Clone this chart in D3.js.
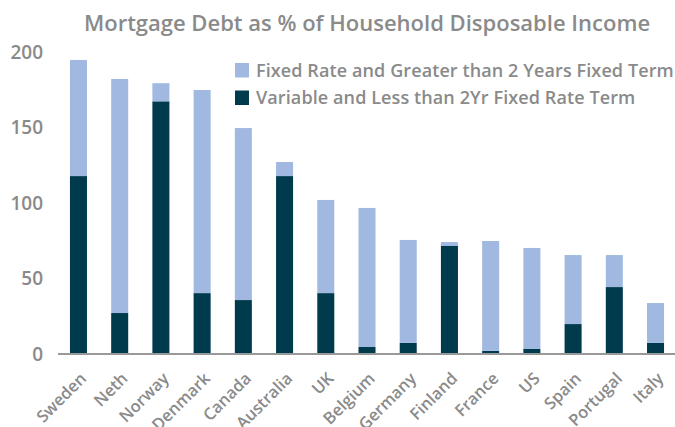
<!DOCTYPE html>
<html>
<head>
<meta charset="utf-8">
<script src="https://d3js.org/d3.v7.min.js"></script>
<style>
body { margin: 0; background: #fff; }
text { font-family: "Open Sans", Lato, sans-serif; fill: #8a8a8a; font-weight: 600; }
</style>
</head>
<body>
<svg id="chart" width="675" height="427"></svg>
<script>
// data
var countries = ["Sweden", "Neth", "Norway", "Denmark", "Canada", "Australia", "UK",
                 "Belgium", "Germany", "Finland", "France", "US", "Spain", "Portugal", "Italy"];
var variable = [117.5, 26.8, 167, 40, 35.4, 117.5, 40, 4.3, 7, 71.2, 1.7, 3, 19.5, 44, 7];
var fixed    = [76.9, 155, 12, 134.5, 113.9, 9.3, 61.7, 92.1, 68.2, 2.6, 72.8, 66.9, 45.7, 21.2, 26.4];
var yTicks = [0, 50, 100, 150, 200];
var seriesNames = ["Fixed Rate and Greater than 2 Years Fixed Term",
                   "Variable and Less than 2Yr Fixed Rate Term"];
var colors = ["#a1b9e0", "#003a4d"];

var svg = d3.select("#chart"),
    margin = {top: 51, right: 0, bottom: 73, left: 58},
    width = +svg.attr("width"),
    height = +svg.attr("height");

var x = d3.scaleBand()
    .domain(countries)
    .range([margin.left, 676])
    .paddingInner(0.587)
    .paddingOuter(0.29);

var y = d3.scaleLinear()
    .domain([0, 200])
    .range([height - margin.bottom - 0.5, margin.top + 0.5]);

var rows = countries.map(function(c, i) {
    return {country: c, variable: variable[i], fixed: fixed[i]};
});
var stack = d3.stack().keys(["variable", "fixed"])(rows);

// title
svg.append("text")
    .attr("x", (margin.left + 676) / 2)
    .attr("y", 31)
    .attr("text-anchor", "middle")
    .attr("font-size", 22)
    .text("Mortgage Debt as % of Household Disposable Income");

// bars
svg.selectAll(".series")
    .data(stack)
  .enter().append("g")
    .attr("class", "series")
    .attr("fill", function(d) { return d.key == "variable" ? colors[1] : colors[0]; })
  .selectAll("rect")
    .data(function(d) { return d; })
  .enter().append("rect")
    .attr("x", function(d) { return x(d.data.country); })
    .attr("width", x.bandwidth())
    .attr("y", function(d) { return y(d[1]); })
    .attr("height", function(d) { return y(d[0]) - y(d[1]); });

// y labels
var yAxis = svg.append("g")
    .attr("transform", "translate(43,0)")
    .call(d3.axisLeft(y).tickValues(yTicks).tickSize(0).tickPadding(0));
yAxis.select(".domain").remove();
yAxis.selectAll("text")
    .attr("font-size", 19)
    .attr("font-family", null)
    .attr("fill", null)
    .attr("dy", "0.35em");

// baseline
svg.append("line")
    .attr("x1", margin.left)
    .attr("x2", 676)
    .attr("y1", y(0) + 0.5)
    .attr("y2", y(0) + 0.5)
    .attr("stroke", "#999")
    .attr("stroke-width", 2);

// x labels
var xAxis = svg.append("g")
    .attr("transform", "translate(0," + y(0) + ")")
    .call(d3.axisBottom(x).tickSize(0).tickPadding(0));
xAxis.select(".domain").remove();
xAxis.selectAll("text")
    .attr("font-size", 16.5)
    .attr("font-family", null)
    .attr("fill", null)
    .attr("text-anchor", "end")
    .attr("dy", null)
    .attr("y", 0)
    .attr("transform", "translate(9,26) rotate(-45)");

// legend
var legend = svg.selectAll(".legend")
    .data(seriesNames)
  .enter().append("g")
    .attr("class", "legend")
    .attr("transform", function(d, i) { return "translate(235," + (63 + i * 27.5) + ")"; });
legend.append("rect")
    .attr("width", 14)
    .attr("height", 14.5)
    .attr("fill", function(d, i) { return colors[i]; });
legend.append("text")
    .attr("x", 21)
    .attr("y", 7.5)
    .attr("dy", "0.35em")
    .attr("font-size", 18)
    .attr("letter-spacing", 0.1)
    .text(function(d) { return d; });
</script>
</body>
</html>
